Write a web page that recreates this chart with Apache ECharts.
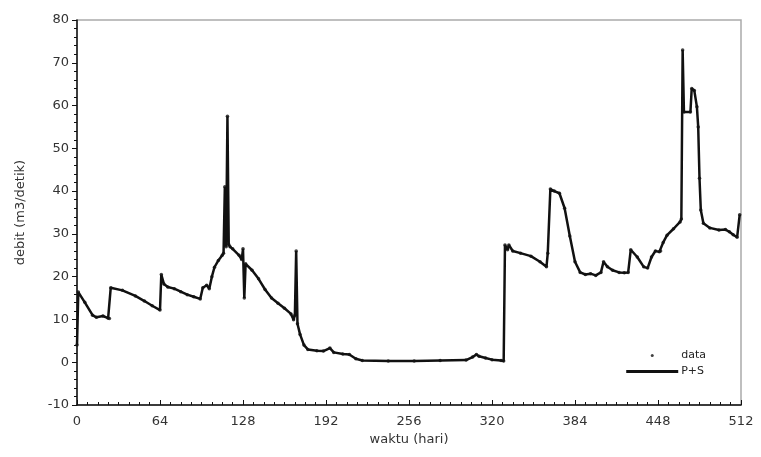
<!DOCTYPE html>
<html><head><meta charset="utf-8">
<script src="https://cdn.jsdelivr.net/npm/echarts@6/dist/echarts.min.js"></script>
<style>html,body{margin:0;padding:0;background:#fff}#c{width:761px;height:457px}</style>
</head><body><div id="c"></div>
<script>
const days = [0,1,6,12,15,20,24,25,26,35,45,52,58,64,65,67,70,75,80,85,90,95,97,100,102,104,106,109,112,113,114,115,116,117,118,120,125,127,128,129,130,135,140,145,150,155,160,165,167,168,169,170,172,175,178,185,190,195,198,205,210,215,220,240,260,280,300,305,308,310,315,320,327,329,330,332,333,336,342,350,357,362,363,365,368,372,376,380,384,388,392,396,400,404,406,409,413,418,422,425,427,432,437,440,443,446,449,450,452,455,460,465,466,467,468,473,474,476,478,479,480,481,483,488,495,500,503,506,509,511];
const debit = [4,16.4,14,11,10.5,10.8,10.3,10.2,17.4,16.8,15.5,14.3,13.2,12.2,20.5,18.3,17.6,17.2,16.5,15.8,15.3,14.8,17.4,18,17.2,20,22.2,23.8,25,25.5,41,27,57.5,27.5,27,26.5,25,24,26.5,15,23,21.5,19.5,17,15,13.8,12.6,11.3,9.9,11,26,9,6.5,4,3,2.7,2.6,3.3,2.3,1.9,1.8,0.8,0.4,0.3,0.3,0.4,0.5,1.2,1.8,1.4,1,0.6,0.4,0.3,27.4,26.3,27.4,26,25.5,24.8,23.5,22.3,25.5,40.5,40,39.5,36,29.5,23.5,21,20.5,20.7,20.3,21,23.5,22.3,21.5,21,20.9,21,26.3,24.6,22.3,22,24.6,26,25.8,26,28,29.7,31.2,32.8,33.5,73,58.5,58.5,64,63.5,59.7,55,43,35.6,32.5,31.4,30.9,31,30.5,29.8,29.2,34.5];
const xTicks = [0,64,128,192,256,320,384,448,512];
const yTicks = [-10,0,10,20,30,40,50,60,70,80];

const pts = days.map((d,i)=>[d,debit[i]]);
const chart = echarts.init(document.getElementById('c'), null, {renderer:'canvas'});
const font = 'DejaVu Sans';
chart.setOption({
  animation:false,
  backgroundColor:'#fff',
  grid:{left:77,top:20,right:20,bottom:52,show:true,borderColor:'#aaa',borderWidth:1.5},
  legend:{
    orient:'vertical', right:50, top:345, itemGap:5, itemWidth:52, itemHeight:3,
    textStyle:{fontFamily:font,fontSize:11,color:'#222',padding:[0,0,0,-2]},
    data:[{name:'data',icon:'circle'},{name:'P+S',icon:'rect'}]
  },
  xAxis:{
    type:'value',min:xTicks[0],max:xTicks[xTicks.length-1],interval:64,
    name:'waktu (hari)',nameLocation:'middle',nameGap:28,
    nameTextStyle:{fontFamily:font,fontSize:13,color:'#333'},
    axisLine:{onZero:false,lineStyle:{color:'#111',width:1.5}},
    axisTick:{inside:true,length:5,lineStyle:{color:'#111'}},
    minorTick:{show:true,splitNumber:8,length:3,lineStyle:{color:'#111'}},
    splitLine:{show:false},
    axisLabel:{fontFamily:font,fontSize:13,color:'#333',margin:10}
  },
  yAxis:{
    type:'value',min:yTicks[0],max:yTicks[yTicks.length-1],interval:10,
    name:'debit (m3/detik)',nameLocation:'middle',nameGap:50,
    nameTextStyle:{fontFamily:font,fontSize:13,color:'#333'},
    axisLine:{onZero:false,lineStyle:{color:'#111',width:1.5}},
    axisTick:{length:5,lineStyle:{color:'#111'}},
    minorTick:{show:true,splitNumber:5,length:3,lineStyle:{color:'#111'}},
    splitLine:{show:false},
    axisLabel:{fontFamily:font,fontSize:13,color:'#333',margin:8}
  },
  series:[
    {name:'P+S',type:'line',data:pts,showSymbol:false,symbol:'none',
     lineStyle:{color:'#111',width:2.5},itemStyle:{color:'#111'}},
    {name:'data',type:'scatter',data:pts,symbol:'circle',symbolSize:3.5,
     itemStyle:{color:'#111'}}
  ]
});
</script></body></html>
